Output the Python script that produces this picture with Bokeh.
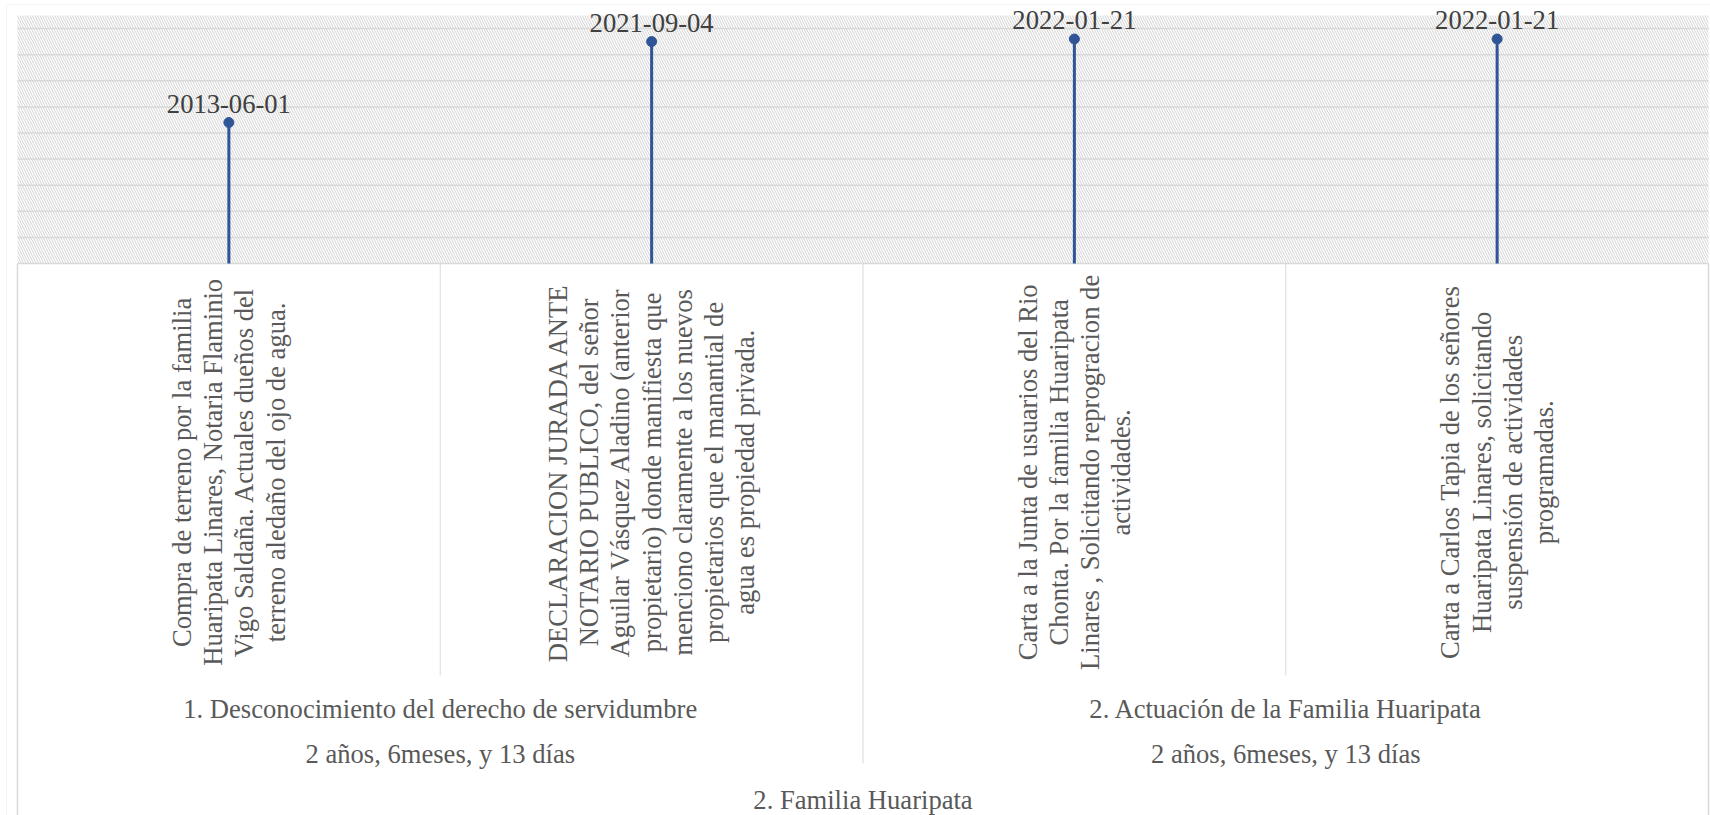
import numpy as np
from bokeh.plotting import figure
from bokeh.models import Range1d, BoxAnnotation
from bokeh.core.properties import value
from bokeh.embed import file_html
from bokeh.resources import INLINE

# ---------------- data ----------------
events = [
    "Compra de terreno por la familia\nHuaripata Linares, Notaria Flaminio\nVigo Saldaña. Actuales dueños del\nterreno aledaño del ojo de agua.",
    "DECLARACION JURADA ANTE\nNOTARIO PUBLICO, del señor\nAguilar Vásquez Aladino (anterior\npropietario) donde manifiesta que\nmenciono claramente a los nuevos\npropietarios que el manantial de\nagua es propiedad privada.",
    "Carta a la Junta de usuarios del Rio\nChonta. Por la familia Huaripata\nLinares , Solicitando reprogracion de\nactividades.",
    "Carta a Carlos Tapia de los señores\nHuaripata Linares, solicitando\nsuspensión de actividades\nprogramadas.",
]
dates = ["2013-06-01", "2021-09-04", "2022-01-21", "2022-01-21"]
heights = [54, 85, 86, 86]
phases = ["1. Desconocimiento del derecho de servidumbre", "2. Actuación de la Familia Huaripata"]
phase_sizes = [2, 2]
phase_durations = ["2 años, 6meses, y 13 días", "2 años, 6meses, y 13 días"]
family = ["2. Familia Huaripata"]
grid_ticks = [0, 10, 20, 30, 40, 50, 60, 70, 80, 90]

# ---------------- layout constants ----------------
n = len(events)
X_START, X_END = -0.0402, n + 0.0047
PLOT_TOP = 95
Y_START, Y_END = -211.45, 100.75
Y_EVENT = -80.0
Y_PHASE = -170.8
Y_DUR = -187.7
Y_FAMILY = -205.5
Y_CAT_SEP = -157.8
Y_PHASE_SEP = -191.5
OUTER_LEFT, OUTER_TOP = -0.026, 99.2

FONT = value("Liberation Serif")
FS = "26.6px"
BLUE = "#2F5597"
SEP = "#d9d9d9"
TXT = "#595959"

xs = np.arange(n) + 0.5

p = figure(width=1710, height=815,
           x_range=Range1d(X_START, X_END), y_range=Range1d(Y_START, Y_END),
           x_axis_location=None, y_axis_location=None,
           output_backend="svg", toolbar_location=None,
           min_border_left=0, min_border_right=0, min_border_top=0, min_border_bottom=0)
p.outline_line_color = None
p.background_fill_color = "white"
p.border_fill_color = "white"
p.xgrid.visible = False
p.ygrid.visible = False

# hatched plot area
hatch = BoxAnnotation(left=0, right=n, bottom=0, top=PLOT_TOP, fill_color="white", fill_alpha=1.0,
                      line_color=None, hatch_pattern="left_diagonal_line",
                      hatch_color="#d2d2d2", hatch_scale=5, hatch_weight=1,
                      level="underlay")
p.add_layout(hatch)

# outer chart border (top / left)
outer_box = BoxAnnotation(left=OUTER_LEFT, top=OUTER_TOP, right=X_END + 1, bottom=Y_START - 10,
                          fill_alpha=0, line_color=SEP, line_width=1, level="underlay")
p.add_layout(outer_box)

# horizontal gridlines
p.segment(x0=[0] * len(grid_ticks), y0=grid_ticks, x1=[n] * len(grid_ticks), y1=grid_ticks,
          line_color=SEP, line_width=1.5)

# stems and markers
p.segment(x0=xs, y0=np.zeros(n), x1=xs, y1=heights, line_color=BLUE, line_width=3)
p.scatter(x=xs, y=heights, size=10, fill_color=BLUE, line_color=BLUE)

# date labels
p.text(x=xs, y=heights, text=dates, text_font=FONT, text_font_size=FS,
       text_color="#404040", text_align="center", text_baseline="middle",
       y_offset=-19)

# event labels (rotated)
p.text(x=xs, y=[Y_EVENT] * n, text=events, angle=np.pi / 2, text_font=FONT,
       text_font_size=FS, text_color=TXT, text_align="center",
       text_baseline="middle", text_line_height=1.04)

# phase labels
bounds = np.concatenate([[0], np.cumsum(phase_sizes)])
phase_x = (bounds[:-1] + bounds[1:]) / 2
p.text(x=phase_x, y=[Y_PHASE] * len(phases), text=phases, text_font=FONT,
       text_font_size=FS, text_color=TXT, text_align="center", text_baseline="middle")
p.text(x=phase_x, y=[Y_DUR] * len(phases), text=phase_durations, text_font=FONT,
       text_font_size=FS, text_color=TXT, text_align="center", text_baseline="middle")
p.text(x=[n / 2], y=[Y_FAMILY], text=family, text_font=FONT,
       text_font_size=FS, text_color=TXT, text_align="center", text_baseline="middle")

# separators
cat_bounds = [b for b in range(1, n) if b not in bounds]
p.segment(x0=cat_bounds, y0=[0] * len(cat_bounds), x1=cat_bounds, y1=[Y_CAT_SEP] * len(cat_bounds),
          line_color=SEP, line_width=1)
inner_phase = list(bounds[1:-1])
p.segment(x0=inner_phase, y0=[0] * len(inner_phase), x1=inner_phase, y1=[Y_PHASE_SEP] * len(inner_phase),
          line_color=SEP, line_width=1)
outer = [0, n]
p.segment(x0=outer, y0=[0, 0], x1=outer, y1=[Y_START, Y_START], line_color=SEP, line_width=1.5)

open("out.html", "w").write(file_html(p, INLINE))
